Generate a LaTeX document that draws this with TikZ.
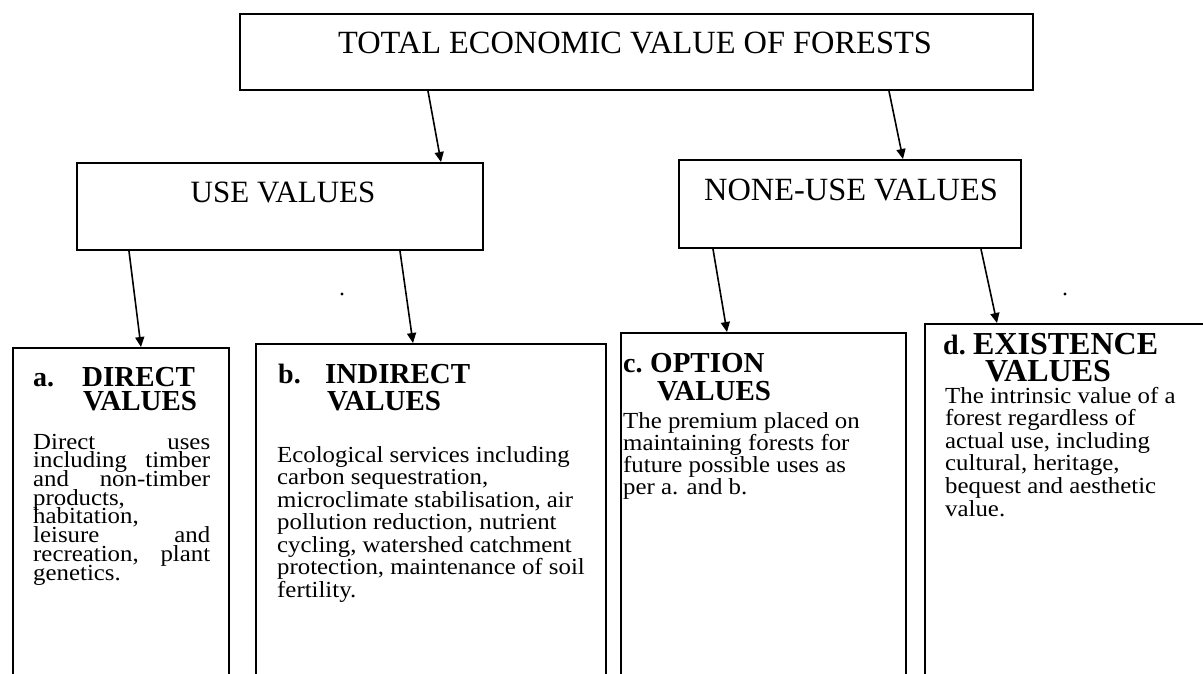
\documentclass[tikz,border=0pt]{standalone}
\usepackage{fontspec}
\setmainfont{Liberation Serif}
\newfontfamily\bodyfont{Liberation Serif}[FakeStretch=1.08]
\usetikzlibrary{arrows.meta}

% fixed baseline distances, even where lines would touch
\lineskiplimit=-100pt
\lineskip=0pt

\tikzset{
  frame/.style={draw, line width=2.1pt, rectangle, inner sep=0pt, anchor=north west},
  link/.style={-{Triangle[length=10pt,width=9pt]}, line width=1.6pt},
  head/.style={font=\fontsize{32.4}{34}\selectfont, inner sep=0pt, anchor=base},
  sub/.style={font=\bfseries\fontsize{29}{30}\selectfont, inner sep=0pt, anchor=base west},
  bigsub/.style={sub, font=\bfseries\fontsize{32}{33}\selectfont},
  label/.style={sub, font=\bfseries\fontsize{28}{30}\selectfont},
  % multi-line body text: the base anchor sits on the last line
  body/.style={inner sep=0pt, anchor=base west, align=left},
}
\newcommand{\bodysize}[1]{\bodyfont\fontsize{23}{#1}\selectfont\lineskiplimit=-100pt\relax}

\begin{document}
\begin{tikzpicture}[x=1pt, y=-1pt]
  \useasboundingbox (0,0) rectangle (1203,673);
  \fill[white] (0,0) rectangle (1203,673);
  \clip (0,0) rectangle (1203,673);

  % boxes
  \node[frame, minimum width=793, minimum height=76] (top)  at (239,13)  {};
  \node[frame, minimum width=406, minimum height=87] (use)  at (76,162)  {};
  \node[frame, minimum width=342, minimum height=88] (none) at (678,159) {};
  \node[frame, minimum width=216, minimum height=400] (a) at (12,347)  {};
  \node[frame, minimum width=350, minimum height=400] (b) at (255,343) {};
  \node[frame, minimum width=285, minimum height=400] (c) at (620,332) {};
  \node[frame, minimum width=320, minimum height=400] (d) at (924,323) {};

  % titles of the upper boxes
  \node[head] (toptext)  at (635,53)  {TOTAL ECONOMIC VALUE OF FORESTS};
  \node[head, font=\fontsize{31}{34}\selectfont] (usetext) at (283,202) {USE VALUES};
  \node[head] (nonetext) at (851,200) {NONE-USE VALUES};

  % connectors
  \draw[link] ([xshift=189]top.south west)  -- ([xshift=365]use.north west);
  \draw[link] ([xshift=650]top.south west)  -- ([xshift=225]none.north west);
  \draw[link] ([xshift=53]use.south west)   -- ([xshift=129]a.north west);
  \draw[link] ([xshift=324]use.south west)  -- ([xshift=158]b.north west);
  \draw[link] ([xshift=35]none.south west)  -- ([xshift=107]c.north west);
  \draw[link] ([xshift=303]none.south west) -- ([xshift=73]d.north west);

  % a. direct values
  \node[label] (al) at (33,386) {a.};
  \node[sub] (ah) at (82,386) {DIRECT};
  \node[sub] (av) at (83,410) {VALUES};
  \node[body, font=\bodysize{18.7}] (at) at (33,580) {%
    \makebox[177pt][s]{Direct uses}\\
    \makebox[177pt][s]{including timber}\\
    \makebox[177pt][s]{and non-timber}\\
    products,\\
    habitation,\\
    \makebox[177pt][s]{leisure and}\\
    \makebox[177pt][s]{recreation, plant}\\
    genetics.};

  % b. indirect values
  \node[label] (bl) at (278,383) {b.};
  \node[sub] (bh) at (325,383) {INDIRECT};
  \node[sub] (bv) at (327,410) {VALUES};
  \node[body, font=\bodysize{22.5}] (bt) at (277,597) {%
    Ecological services including\\
    carbon sequestration,\\
    microclimate stabilisation, air\\
    pollution reduction, nutrient\\
    cycling, watershed catchment\\
    protection, maintenance of soil\\
    fertility.};

  % c. option values
  \node[label] (cl) at (623,372) {c.};
  \node[sub] (ch) at (650,372) {OPTION};
  \node[sub] (cv) at (657,400) {VALUES};
  \node[body, font=\bodysize{21.7}] (ct) at (623,494) {%
    The premium placed on\\
    maintaining forests for\\
    future possible uses as\\
    per a. and b.};

  % d. existence values
  \node[label] (dl) at (943,354) {d.};
  \node[bigsub] (dh) at (973,354) {EXISTENCE};
  \node[bigsub] (dv) at (985,381) {VALUES};
  \node[body, font=\bodysize{22.6}] (dt) at (945,516) {%
    The intrinsic value of a\\
    forest regardless of\\
    actual use, including\\
    cultural, heritage,\\
    bequest and aesthetic\\
    value.};

  % specks
  \fill (342,294) circle (1.6);
  \fill (1065,294) circle (1.6);
\end{tikzpicture}
\end{document}
